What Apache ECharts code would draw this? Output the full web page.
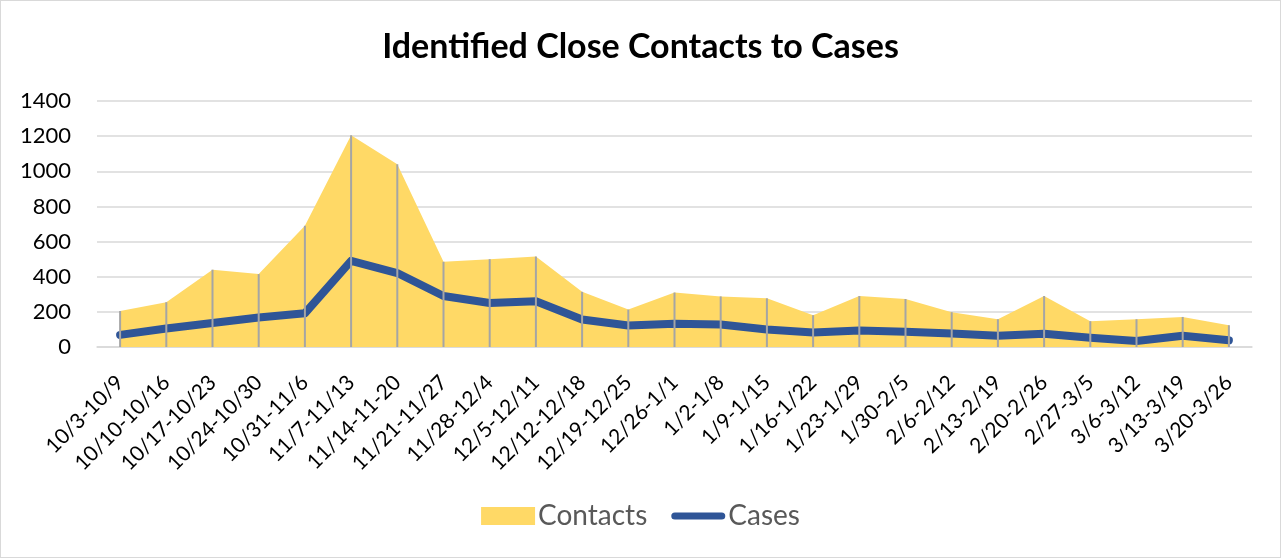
<!DOCTYPE html>
<html>
<head>
<meta charset="utf-8">
<script src="https://cdn.jsdelivr.net/npm/echarts@6/dist/echarts.min.js"></script>
<style>
  html, body { margin: 0; padding: 0; background: #fff; }
  #chart { width: 1279px; height: 556px; border: 1px solid #d9d9d9; }
</style>
</head>
<body>
<div id="chart"></div>
<script>
var weeks = ['10/3-10/9', '10/10-10/16', '10/17-10/23', '10/24-10/30', '10/31-11/6',
    '11/7-11/13', '11/14-11-20', '11/21-11/27', '11/28-12/4', '12/5-12/11',
    '12/12-12/18', '12/19-12/25', '12/26-1/1', '1/2-1/8', '1/9-1/15', '1/16-1/22',
    '1/23-1/29', '1/30-2/5', '2/6-2/12', '2/13-2/19', '2/20-2/26', '2/27-3/5',
    '3/6-3/12', '3/13-3/19', '3/20-3/26'];
var contacts = [205, 255, 440, 415, 690, 1205, 1040, 485, 500, 515, 314, 213, 310, 288, 277,
    181, 290, 273, 198, 158, 290, 147, 158, 171, 124];
var cases = [69, 105, 137, 168, 192, 490, 421, 290, 250, 260, 156, 122, 132, 128, 100, 83,
    94, 87, 77, 64, 75, 53, 34, 64, 38];

var myChart = echarts.init(document.getElementById('chart'));
var fontName = 'Lato';

option = {
    animation: false,
    title: {
        text: 'Identified Close Contacts to Cases',
        left: 'center',
        top: 24,
        textStyle: {
            fontFamily: fontName,
            fontSize: 34,
            fontWeight: 'bold',
            color: '#000'
        }
    },
    legend: {
        bottom: 22,
        left: 'center',
        itemGap: 24,
        itemWidth: 54,
        itemHeight: 18,
        textStyle: { fontFamily: fontName, fontSize: 28, color: '#595959', padding: [0, 0, 0, -2] },
        data: [
            { name: 'Contacts', icon: 'rect' },
            {
                name: 'Cases',
                icon: 'path://M4,0 L56,0 A4,4 0 0 1 56,8 L4,8 A4,4 0 0 1 4,0 Z'
            }
        ]
    },
    grid: {
        left: 96,
        right: 28,
        top: 100,
        bottom: 210
    },
    xAxis: {
        type: 'category',
        data: weeks,
        boundaryGap: true,
        axisLine: { lineStyle: { color: '#d9d9d9', width: 1.5 } },
        axisTick: { show: false },
        axisLabel: {
            rotate: 45,
            interval: 0,
            fontFamily: fontName,
            fontSize: 21,
            color: '#000',
            margin: 32
        }
    },
    yAxis: {
        type: 'value',
        min: 0,
        max: 1400,
        interval: 200,
        axisLine: { show: false },
        axisTick: { show: false },
        axisLabel: {
            fontFamily: fontName,
            fontSize: 22,
            color: '#000',
            margin: 26,
            formatter: function (v) { return String(v); }
        },
        splitLine: { lineStyle: { color: '#d9d9d9', width: 1.5 } }
    },
    series: [
        {
            name: 'Contacts',
            type: 'line',
            data: contacts,
            symbol: 'none',
            lineStyle: { width: 0 },
            itemStyle: { color: '#FFD966' },
            areaStyle: { color: '#FFD966', opacity: 1 },
            z: 1
        },
        {
            name: 'Cases',
            type: 'line',
            data: cases,
            symbol: 'none',
            lineStyle: { width: 8, color: '#2F5597', cap: 'round', join: 'round' },
            itemStyle: { color: '#2F5597' },
            z: 3
        },
        {
            name: 'drop',
            type: 'bar',
            data: contacts,
            barWidth: 2,
            silent: true,
            itemStyle: { color: '#a5a5a5' },
            z: 4
        }
    ]
};

myChart.setOption(option);
</script>
</body>
</html>
